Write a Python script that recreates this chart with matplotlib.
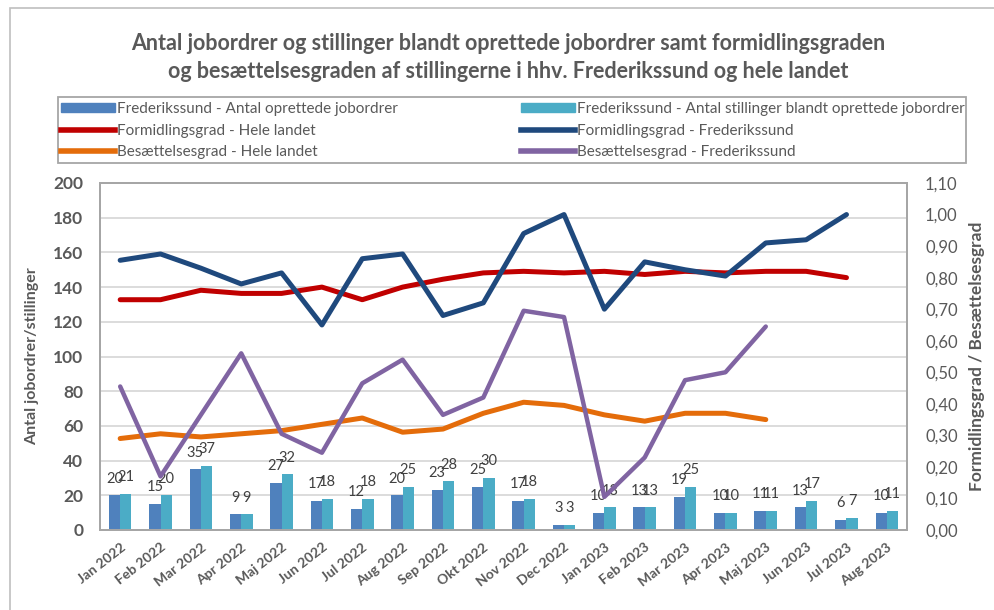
import matplotlib.pyplot as plt
from matplotlib.patches import Patch, Rectangle
from matplotlib.lines import Line2D
from matplotlib.ticker import FuncFormatter, MultipleLocator

plt.rcParams['font.family'] = ['Lato', 'DejaVu Sans']

months = ["Jan 2022", "Feb 2022", "Mar 2022", "Apr 2022", "Maj 2022", "Jun 2022", "Jul 2022",
          "Aug 2022", "Sep 2022", "Okt 2022", "Nov 2022", "Dec 2022", "Jan 2023", "Feb 2023",
          "Mar 2023", "Apr 2023", "Maj 2023", "Jun 2023", "Jul 2023", "Aug 2023"]

jobordrer = [20, 15, 35, 9, 27, 17, 12, 20, 23, 25, 17, 3, 10, 13, 19, 10, 11, 13, 6, 10]
stillinger = [21, 20, 37, 9, 32, 18, 18, 25, 28, 30, 18, 3, 13, 13, 25, 10, 11, 17, 7, 11]

# rates, last months are missing
formid_land = [0.73, 0.73, 0.76, 0.75, 0.75, 0.77, 0.73, 0.77, 0.795, 0.815, 0.82, 0.815,
               0.82, 0.81, 0.82, 0.815, 0.82, 0.82, 0.80]
formid_fred = [0.855, 0.875, 0.83, 0.78, 0.815, 0.65, 0.86, 0.875, 0.68, 0.72, 0.94, 1.00,
               0.70, 0.85, 0.825, 0.805, 0.91, 0.92, 1.00]
besaet_land = [0.29, 0.305, 0.295, 0.305, 0.315, 0.335, 0.355, 0.31, 0.32, 0.37, 0.405,
               0.395, 0.365, 0.345, 0.37, 0.37, 0.35]
besaet_fred = [0.455, 0.17, 0.365, 0.56, 0.305, 0.245, 0.465, 0.54, 0.365, 0.42, 0.695,
               0.675, 0.105, 0.23, 0.475, 0.50, 0.645]

c_bar1 = '#4F81BD'
c_bar2 = '#4BACC6'
c_red = '#C00000'
c_navy = '#1F497D'
c_orange = '#E46C0A'
c_purple = '#8064A2'
grey = '#595959'

fig = plt.figure(figsize=(9.94, 6.10), dpi=100)
fig.patches.append(Rectangle((10 / 994, -0.1), 1.2, 1.1 - 8 / 610, transform=fig.transFigure,
                             fill=False, edgecolor='#BFBFBF', lw=1.2))

ax = fig.add_axes([100 / 994, 80 / 610, 807 / 994, 347 / 610])
ax2 = ax.twinx()

x = list(range(len(months)))
w = 0.28
b1 = ax.bar([i - w / 2 for i in x], jobordrer, width=w, color=c_bar1, zorder=2)
b2 = ax.bar([i + w / 2 for i in x], stillinger, width=w, color=c_bar2, zorder=2)

for bars, vals in ((b1, jobordrer), (b2, stillinger)):
    for r, v in zip(bars, vals):
        ax.annotate(str(v), (r.get_x() + r.get_width() / 2, v), xytext=(0, 7),
                    textcoords='offset points', ha='center', va='bottom',
                    fontsize=10.5, color='#404040', zorder=3)

ax2.plot(x[:len(formid_land)], formid_land, color=c_red, lw=3.6, solid_capstyle='round')
ax2.plot(x[:len(formid_fred)], formid_fred, color=c_navy, lw=3.6, solid_capstyle='round')
ax2.plot(x[:len(besaet_land)], besaet_land, color=c_orange, lw=3.6, solid_capstyle='round')
ax2.plot(x[:len(besaet_fred)], besaet_fred, color=c_purple, lw=3.2, solid_capstyle='round')

ax.set_xlim(-0.5, len(months) - 0.5)
ax.set_ylim(0, 200)
ax.yaxis.set_major_locator(MultipleLocator(20))
ax2.set_ylim(0, 1.1)
ax2.yaxis.set_major_locator(MultipleLocator(0.1))
ax2.yaxis.set_major_formatter(FuncFormatter(lambda v, p: f"{v:.2f}".replace('.', ',')))

ax.grid(axis='y', color='#D9D9D9', lw=1.3, zorder=0)
ax.set_axisbelow(True)

ax.set_xticks(x)
ax.set_xticklabels(months, rotation=38, ha='right', rotation_mode='anchor',
                   fontsize=10, fontweight='bold', color=grey)
ax.tick_params(axis='x', length=0, pad=8)
ax.tick_params(axis='y', length=0, pad=12, labelsize=12.5, labelcolor=grey)
for t in ax.get_yticklabels():
    t.set_fontweight('bold')
ax2.tick_params(axis='y', length=0, pad=13, labelsize=12, labelcolor=grey)

for a in (ax, ax2):
    for s in a.spines.values():
        s.set_color('#A6A6A6')
        s.set_linewidth(1.3)

ax.set_ylabel('Antal jobordrer/stillinger', fontsize=11.5, fontweight='bold', color=grey, labelpad=10)
ax2.set_ylabel('Formidlingsgrad / Besættelsesgrad', fontsize=12.5, fontweight='bold', color=grey,
               labelpad=8)

fig.text(0.511, 1 - 43 / 610, 'Antal jobordrer og stillinger blandt oprettede jobordrer samt formidlingsgraden',
         ha='center', va='center', fontsize=15.5, fontweight='bold', color=grey)
fig.text(0.511, 1 - 72 / 610, 'og besættelsesgraden af stillingerne i hhv. Frederikssund og hele landet',
         ha='center', va='center', fontsize=15.5, fontweight='bold', color=grey)

# legend: frame plus two columns placed by hand
fig.patches.append(Rectangle((58 / 994, 1 - 163 / 610), 908 / 994, 66 / 610, transform=fig.transFigure,
                             fill=False, edgecolor='#A6A6A6', lw=1.3))
col1 = ([Patch(color=c_bar1), Line2D([], [], color=c_red, lw=4), Line2D([], [], color=c_orange, lw=4)],
        ['Frederikssund - Antal oprettede jobordrer', 'Formidlingsgrad - Hele landet',
         'Besættelsesgrad - Hele landet'])
col2 = ([Patch(color=c_bar2), Line2D([], [], color=c_navy, lw=4), Line2D([], [], color=c_purple, lw=4)],
        ['Frederikssund - Antal stillinger blandt oprettede jobordrer',
         'Formidlingsgrad - Frederikssund', 'Besættelsesgrad - Frederikssund'])
for (h, l), x0 in ((col1, 58), (col2, 518)):
    leg = fig.legend(h, l, loc='upper left', bbox_to_anchor=(x0 / 994, 1 - 99 / 610),
                     frameon=False, fontsize=11, handlelength=3.5, handleheight=0.5,
                     handletextpad=0.15, borderaxespad=0, borderpad=0.2, labelspacing=0.5,
                     labelcolor=grey)

fig.savefig('out.png', dpi=100)
